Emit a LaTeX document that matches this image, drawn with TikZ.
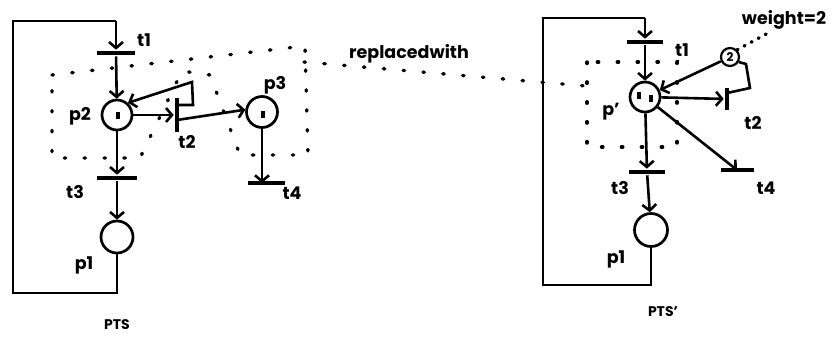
\documentclass[tikz,border=0pt]{standalone}
\usepackage{fontspec}
\setmainfont{Poppins}
\usetikzlibrary{arrows.meta}
\begin{document}
\begin{tikzpicture}[x=1pt,y=-1pt,
  line width=2.6pt,
  >={Straight Barb[length=6pt,width=14pt]},
  place/.style={circle,draw,line width=2.7pt,minimum size=30pt,inner sep=0pt},
  hbar/.style={rectangle,fill=black,draw=none,minimum width=38pt,minimum height=4pt,inner sep=0pt},
  vbar/.style={rectangle,fill=black,draw=none,minimum width=4pt,minimum height=34pt,inner sep=0pt},
  tok/.style={rectangle,fill=black,draw=none,minimum width=4pt,minimum height=7pt,inner sep=0pt},
  lbl/.style={font=\fontsize{17.5}{17.5}\bfseries\selectfont,inner sep=0pt},
  captxt/.style={font=\fontsize{14}{14}\bfseries\selectfont,inner sep=0pt},
  region/.style={line width=3.4pt,dash pattern=on 1.4pt off 18.5pt,line cap=round},
]
\useasboundingbox (0,0) rectangle (832,342);

% ---------- left net (PTS) ----------
\node[place] (p2) at (117,115) {};
\node[tok] (k2) at (118,116) {};
\node[place,minimum size=32pt] (p1) at (117,237) {};
\node[place,minimum size=31pt] (p3) at (262,112) {};
\node[tok] (k3) at (263,115) {};
\node[hbar] (t1) at (116,53) {};
\node[hbar,minimum width=40pt] (t3) at (117,178) {};
\node[vbar] (t2) at (177,115) {};
\node[hbar,minimum width=37pt] (t4) at (266,183) {};

\coordinate (a1) at (117,293);
\coordinate (a2) at (13,293);
\coordinate (a3) at (13,21);
\coordinate (a4) at (116,21);
\draw (p1) -- (a1) -- (a2) -- (a3) -- (a4);
\draw[->] (a4) -- (t1);
\draw[->] (t1) -- (p2);
\draw[->] (p2) -- (t3);
\draw[->] (t3) -- (p1);
\draw[->] (p2) -- (t2);
\coordinate (l1) at (193,105);
\coordinate (l2) at (192,82);
\draw[->] ([yshift=10pt]t2.center) -- (l1) -- (l2) -- (p2.48);
\draw[->] ([yshift=-5pt]t2.center) -- (p3.172);
\draw[->] (p3) -- (p3 |- t4.center);

\node[lbl] (lt1) at (144,40) {t1};
\node[lbl] (lp2) at (80,116) {p2};
\node[lbl] (lt2) at (187,142) {t2};
\node[lbl] (lp3) at (275,85) {p3};
\node[lbl] (lt4) at (292,193) {t4};
\node[lbl] (lt3) at (75,192) {t3};
\node[lbl] (lp1) at (84,265) {p1};
\node[captxt] (pts) at (117,325) {PTS};

% dotted region on the left
\draw[region] (52,75) -- (305,46) -- (308,155) -- (240,155) -- (210,75)
  -- (182,71) -- (140,158) -- (52,158) -- cycle;

% replaced-with connector
\coordinate (r1) at (304,62);
\coordinate (r2) at (586,86);
\draw[region] (r1) -- (r2);
\node[lbl] (rw) at (409,54) {replacedwith};

% ---------- right net (PTS') ----------
\node[place] (pp) at (645,97) {};
\node[tok] (k4) at (639,96) {};
\node[tok] (k5) at (651,99) {};
\node[place,minimum size=33pt] (q1) at (651,230) {};
\node[hbar,minimum width=36pt] (u1) at (645,42) {};
\node[hbar,minimum width=36pt] (u3) at (647,172) {};
\node[vbar,minimum height=22pt] (u2) at (727,99) {};
\node[hbar,minimum width=33pt] (u4) at (737,170) {};
\node[circle,draw,line width=2.2pt,minimum size=18pt,inner sep=0pt,
      font=\fontsize{12}{12}\bfseries\selectfont] (w) at (730,57) {2};

\coordinate (b1) at (651,285);
\coordinate (b2) at (543,285);
\coordinate (b3) at (543,18);
\coordinate (b4) at (645,18);
\draw (q1) -- (b1) -- (b2) -- (b3) -- (b4);
\draw[->] (b4) -- (u1);
\draw[->] (u1) -- (pp);
\draw[->] (pp) -- (u3);
\draw[->] (u3) -- (q1);
\draw[->] (pp) -- (u2);
\draw[->] (pp) -- (u4.center);
\coordinate (m1) at (750,88);
\coordinate (m2) at (746,64);
\draw ([yshift=6pt]u2.center) -- (m1) -- (m2) -- (w.-30);
\draw[->] (w) -- (pp);

\draw[region] (587,62) rectangle (677,147);

\node[lbl] (wl) at (784,20) {weight=2};
\coordinate (wd) at (768,33);
\draw[region,dash pattern=on 1pt off 7pt] (w.45) -- (wd);

\node[lbl] (rt1) at (682,50) {t1};
\node[lbl] (rpp) at (611,112) {p'};
\node[lbl] (rt2) at (753,123) {t2};
\node[lbl] (rt4) at (766,188) {t4};
\node[lbl] (rt3) at (620,188) {t3};
\node[lbl] (rp1) at (616,259) {p1};
\node[captxt] (pts2) at (663,312) {PTS'};
\end{tikzpicture}
\end{document}
